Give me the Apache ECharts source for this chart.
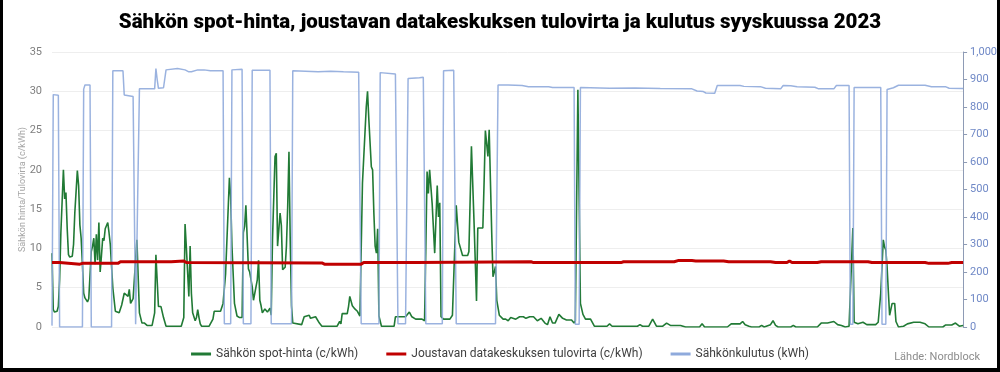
<!DOCTYPE html>
<html>
<head>
<meta charset="utf-8">
<script src="https://cdn.jsdelivr.net/npm/echarts@6/dist/echarts.min.js"></script>
<style>
html,body{margin:0;padding:0;background:#fff;}
#chart{width:1000px;height:372px;}
</style>
</head>
<body>
<div id="chart"></div>
<script>
// Hours from the start of September 2023 (0 = 1.9. 00:00)
const priceHours = [0,1,2,4,5,6,7,9,10,11,12,13,14,16,17,18,20,21,22,23,24,25,26,28,29,31,32,33,34,35,36,37,38,39,40,41,42,44,45,46,48,50,53,55,56,57,58,60,61,62,64,67,69,71,73,75,79,81,82,84,86,88,90,102,104,105,106,108,109,110,111,113,114,115,116,117,118,124,127,128,133,135,137,140,141,142,144,146,148,150,151,152,153,155,156,158,159,162,163,164,165,166,167,168,170,172,173,174,176,177,178,180,181,182,184,185,186,187,188,189,190,191,197,199,200,203,204,208,209,211,213,225,227,228,229,233,234,235,237,239,241,243,245,248,249,250,252,253,254,255,256,257,258,260,270,271,274,279,282,284,287,292,294,295,296,297,298,299,300,302,304,305,306,307,309,314,316,319,321,324,328,329,331,333,335,336,340,341,342,343,344,345,346,347,348,349,350,351,353,356,358,360,362,366,369,372,374,377,380,383,386,389,391,393,395,397,400,403,406,410,412,413,415,417,419,421,425,428,438,440,442,462,464,466,471,474,477,482,485,488,496,500,511,513,515,533,536,543,545,547,550,552,558,560,562,567,569,571,573,583,585,587,604,607,612,617,620,623,626,629,630,632,633,634,636,640,643,650,652,654,656,657,658,659,660,661,662,663,665,666,668,672,675,680,685,689,692,703,705,710,713,714,716,719];
const priceValues = [9.4,2.2,1.9,2.0,2.6,6.0,12.0,20.0,16.3,17.1,12.5,9.2,8.9,9.0,10.5,14.5,19.9,18.0,13.0,11.3,8.0,4.3,3.7,3.2,3.6,9.6,10.3,11.3,8.0,11.8,8.5,13.3,7.0,9.0,11.3,11.0,12.5,13.3,12.0,10.5,5.0,2.0,1.8,2.8,2.8,4.3,4.5,3.9,4.8,3.0,3.6,11.1,1.8,0.5,0.5,0.2,0.2,1.8,9.2,2.6,2.6,1.2,0.1,0.1,1.2,13.1,10.2,3.9,10.3,4.3,1.8,0.8,1.2,2.2,1.2,0.4,0.1,0.1,1.0,2.0,2.0,3.0,6.8,19.0,16.5,10.3,3.0,1.4,1.2,1.2,12.0,12.8,15.5,7.4,7.0,5.1,3.4,6.0,8.5,3.4,2.7,1.8,1.8,2.3,1.9,2.4,1.5,11.1,21.7,22.1,10.3,14.5,12.9,7.3,7.6,10.3,15.3,22.3,11.0,2.7,0.5,0.3,0.3,1.3,1.3,1.5,1.1,1.3,1.3,0.5,0.1,0.1,0.7,0.4,1.7,1.7,2.6,3.9,2.7,2.3,2.0,1.4,18.3,28.0,30.0,26.5,20.4,20.0,14.5,10.3,9.4,12.5,1.4,0.1,0.1,1.3,1.3,1.3,1.9,1.3,1.0,1.0,0.8,10.0,19.8,17.0,20.0,19.8,15.7,9.4,18.0,14.0,15.8,1.3,1.0,1.0,1.5,15.5,10.8,9.1,9.1,9.6,23.0,13.6,3.3,12.6,12.6,18.5,25.0,25.1,21.7,25.1,18.5,12.0,6.4,7.0,7.7,3.4,1.5,1.0,1.0,0.8,1.2,1.0,1.3,1.3,1.1,1.3,1.3,0.8,1.1,0.5,0.3,1.3,0.5,0.5,1.6,1.1,0.9,0.9,0.5,0.8,30.2,3.0,1.6,1.0,1.0,0.1,0.1,0.4,0.1,0.1,0.3,0.1,0.1,1.0,0.1,0.1,0.5,0.2,0.2,0.0,0.0,0.4,0.0,0.0,0.4,0.4,0.7,0.3,0.1,0.0,0.0,0.2,0.0,0.3,0.8,0.2,0.0,0.0,0.2,0.0,0.0,0.5,0.5,0.7,0.3,0.2,0.0,0.1,0.2,12.6,0.6,0.4,0.4,0.6,0.3,0.3,0.6,4.3,11.1,10.2,9.8,7.7,4.5,1.5,1.3,3.0,3.0,0.7,0.0,0.1,0.4,0.6,0.6,0.4,0.0,0.0,0.25,0.25,0.5,0.6,0.1,0.2];

const incomeHours = [0,6,7,22,24,52,54,94,95,104,106,213,215,244,246,287,288,378,380,449,451,491,494,505,508,530,534,567,571,580,582,584,604,607,644,647,689,692,707,710,719];
const incomeValues = [8.2,8.2,8.0,8.0,8.1,8.1,8.3,8.3,8.4,8.4,8.2,8.15,8.0,8.0,8.2,8.2,8.3,8.3,8.2,8.2,8.3,8.3,8.45,8.45,8.4,8.4,8.3,8.3,8.2,8.2,8.4,8.2,8.2,8.3,8.3,8.2,8.2,8.1,8.1,8.2,8.2];

const consumptionHours = [0,1,5,6,24,25,26,30,31,47,48,56,57,64,66,67,69,81,82,83,84,88,90,91,99,105,108,110,115,120,125,135,136,141,142,150,151,157,158,172,173,189,190,200,210,220,230,242,243,244,258,259,271,273,279,281,290,293,295,308,309,317,319,350,352,360,371,376,392,395,412,413,416,417,440,460,480,505,509,514,516,523,525,543,546,559,563,575,577,583,588,602,605,617,619,629,630,632,633,654,655,658,659,664,668,689,694,705,708,719];
const consumptionValues = [5,845,843,0,0,865,880,880,0,0,932,932,844,838,10,10,866,866,940,900,868,870,935,940,940,935,928,928,935,935,932,932,12,12,935,937,12,12,934,934,12,12,932,930,928,930,928,926,920,12,12,925,920,12,12,904,906,908,12,12,932,934,12,12,880,880,878,874,874,871,871,10,10,871,868,869,867,866,858,856,851,850,878,878,875,874,868,866,878,877,874,872,866,866,878,878,10,10,871,871,10,10,864,870,879,879,874,874,868,867];

const titleText = 'Sähkön spot-hinta, joustavan datakeskuksen tulovirta ja kulutus syyskuussa 2023';
const seriesNames = ['Sähkön spot-hinta (c/kWh)', 'Joustavan datakeskuksen tulovirta (c/kWh)', 'Sähkönkulutus (kWh)'];
const leftAxisName = 'Sähkön hinta/Tulovirta (c/kWh)';
const sourceText = 'Lähde: Nordblock';

const pairs = (xs, ys) => xs.map((x, i) => [x, ys[i]]);

const chart = echarts.init(document.getElementById('chart'), null, {renderer: 'canvas'});
chart.setOption({
  backgroundColor: '#ffffff',
  animation: false,
  title: {
    text: titleText,
    left: 'center',
    top: 7,
    textStyle: {fontFamily: 'Roboto', fontWeight: 900, fontSize: 20.5, color: '#000000'}
  },
  legend: {
    data: seriesNames,
    bottom: 7,
    left: 'center',
    itemWidth: 20,
    itemHeight: 3,
    itemGap: 28,
    icon: 'rect',
    textStyle: {fontFamily: 'Roboto', fontSize: 12, color: '#404040'}
  },
  grid: {left: 52, right: 35, top: 52, bottom: 45},
  xAxis: {
    type: 'value', min: 0, max: 719, show: false
  },
  yAxis: [{
    type: 'value', min: 0, max: 35, interval: 5,
    name: leftAxisName, nameLocation: 'middle', nameGap: 25, nameRotate: 90,
    nameMoveOverlap: false,
    nameTextStyle: {fontFamily: 'Roboto', fontSize: 9, color: '#a6a6a6'},
    axisLine: {show: false}, axisTick: {show: false},
    axisLabel: {fontFamily: 'Roboto', fontSize: 11, color: '#7f7f7f', margin: 10},
    splitLine: {lineStyle: {color: '#eeeeee', width: 1}}
  }, {
    type: 'value', min: 0, max: 1000, interval: 100, position: 'right',
    axisLine: {show: true, lineStyle: {color: '#8e9bb5', width: 1}},
    axisTick: {show: true, length: 4, lineStyle: {color: '#8e9bb5'}},
    axisLabel: {fontFamily: 'Roboto', fontSize: 11, color: '#6f88c6', margin: 7},
    splitLine: {show: false}
  }],
  series: [{
    name: seriesNames[0], type: 'line', yAxisIndex: 0, showSymbol: false,
    data: pairs(priceHours, priceValues), z: 3,
    lineStyle: {color: '#217a35', width: 1.6}, itemStyle: {color: '#217a35'}
  }, {
    name: seriesNames[1], type: 'line', yAxisIndex: 0, showSymbol: false,
    data: pairs(incomeHours, incomeValues), z: 5,
    lineStyle: {color: '#c00000', width: 3}, itemStyle: {color: '#c00000'}
  }, {
    name: seriesNames[2], type: 'line', yAxisIndex: 1, showSymbol: false,
    data: pairs(consumptionHours, consumptionValues), z: 4,
    lineStyle: {color: '#8faadc', width: 1.5, opacity: 0.9}, itemStyle: {color: '#8faadc'}
  }],
  graphic: [
    {type: 'text', right: 20, bottom: 9, style: {text: sourceText, font: '11px Roboto', fill: '#8c8c8c'}},
    {type: 'rect', left: 0, top: 0, shape: {width: 3, height: 372}, style: {fill: '#000'}},
    {type: 'rect', right: 0, top: 0, shape: {width: 3, height: 372}, style: {fill: '#000'}},
    {type: 'rect', left: 0, bottom: 0, shape: {width: 1000, height: 4}, style: {fill: '#000'}}
  ]
});
</script>
</body>
</html>
